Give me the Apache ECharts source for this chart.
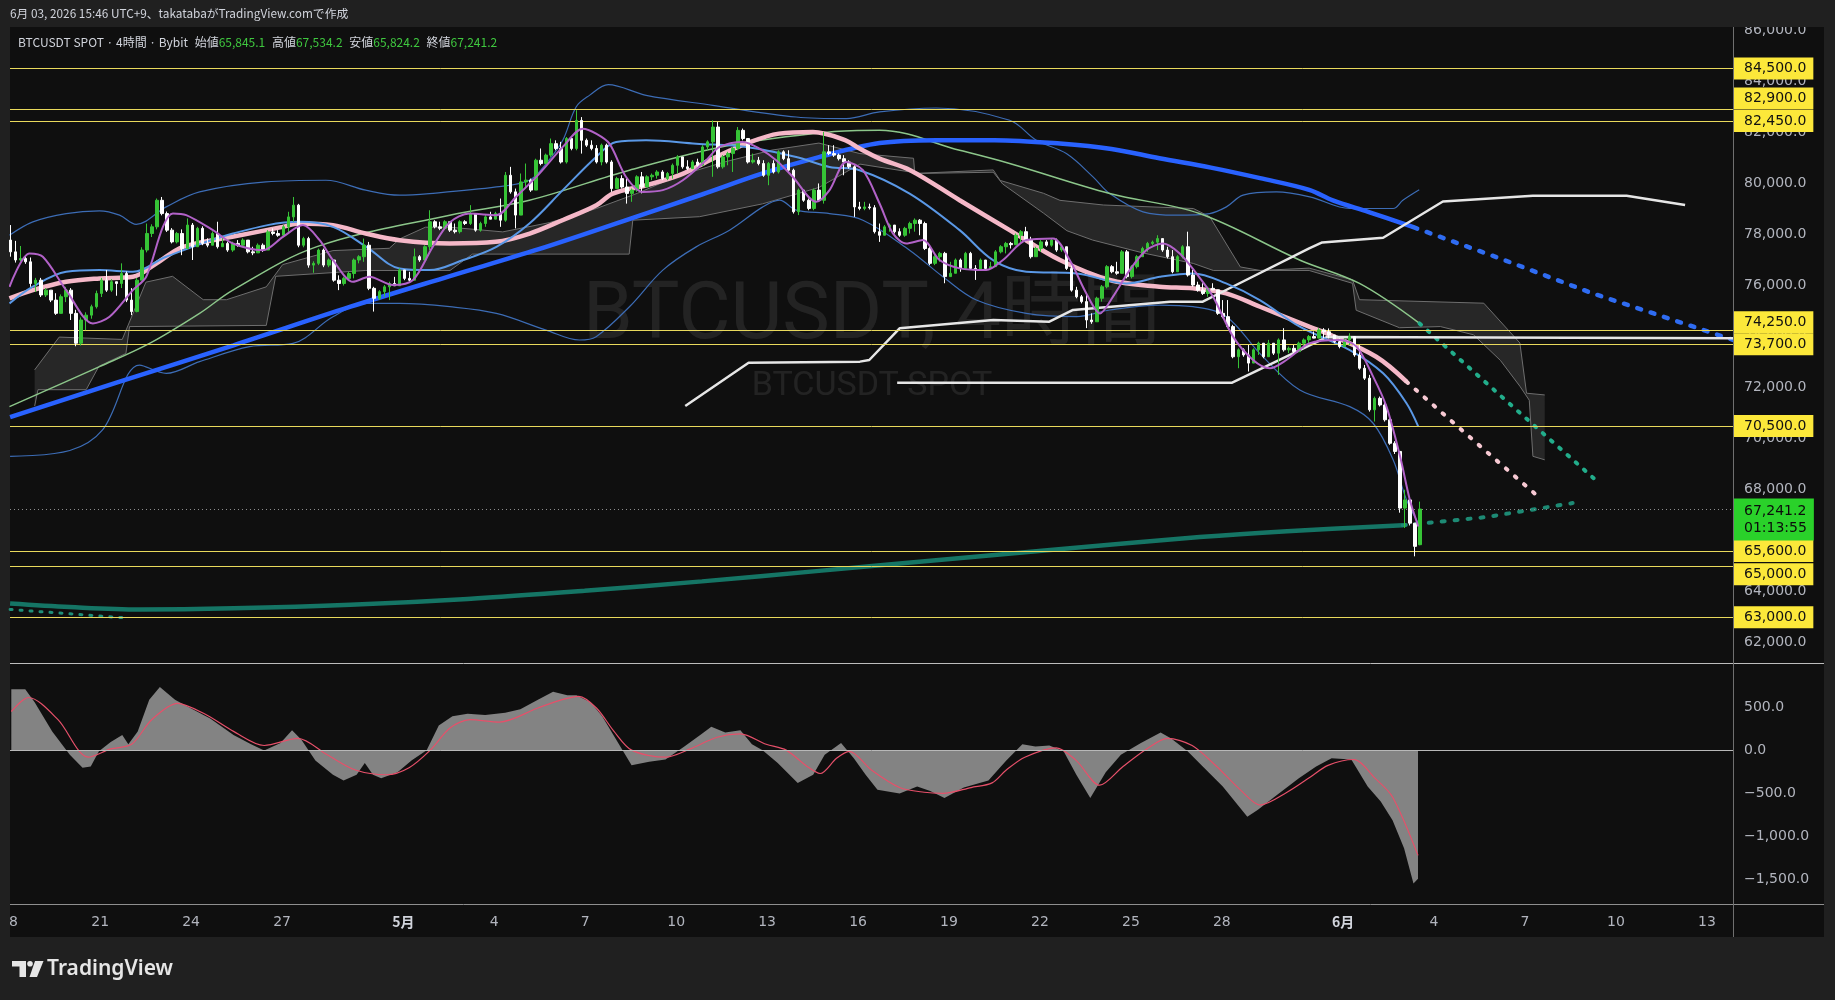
<!DOCTYPE html>
<html lang="ja">
<head>
<meta charset="UTF-8">
<title>BTCUSDT SPOT 4時間</title>
<style>
    *{margin:0;padding:0}
    html,body{width:100%;height:100%;background:#202020;overflow:hidden}
    #chart{width:1835px;height:1000px}
</style>
<script src="https://cdn.jsdelivr.net/npm/echarts@6.0.0/dist/echarts.min.js"></script>
</head>
<body>
<div id="chart"></div>
<script>
// x values are days counted from 2026-04-18 00:00 (UTC+9); candle i opens at 01:00 + 4h*i
// candles: [open, high, low, close]
const candles = [
[77780,78370,77130,77320],[77320,77750,76900,77000],[77000,77550,76950,77060],[77060,77150,76850,76930],
[76930,77100,75950,76080],[76080,76300,75750,76210],[76210,76300,75550,75630],[75630,75900,75550,75820],
[75820,75820,75350,75430],[75430,75700,74850,74910],[74910,75650,74910,75560],[75560,75950,75350,75820],
[75820,75900,74650,74910],[74910,75050,73620,73740],[73740,74750,73650,74650],[74650,74950,74250,74840],
[74840,75250,74700,75170],[75170,75800,75100,75690],[75690,76300,75550,76210],[76210,76610,75750,75820],
[75820,76250,75750,76150],[76150,76150,75600,76080],[76080,76870,75900,76470],[76470,76550,75350,75430],
[75430,75900,74840,74980],[74980,76300,74950,76210],[76210,77500,76210,77390],[77390,78430,77300,78040],
[78040,78400,77900,78300],[78300,79410,78200,79340],[79340,79470,78750,78820],[78820,78900,78100,78170],
[78170,78250,77650,77710],[77710,78100,77650,78040],[78040,78200,77190,77450],[77450,78630,77450,78370],
[78370,78450,77000,77520],[77520,78300,77520,78240],[78240,78320,77580,77650],[77650,77850,77500,77580],
[77580,78120,77580,78040],[78040,78500,77450,77520],[77520,77920,77520,77650],[77650,77720,77320,77390],
[77390,77720,77320,77650],[77650,77780,77520,77580],[77580,77850,77520,77780],[77780,77780,77260,77320],
[77320,77520,77190,77280],[77280,77650,77280,77580],[77580,77650,77320,77390],[77390,78170,77390,78100],
[78100,78240,77970,78040],[78040,78170,77910,77970],[77970,78370,77910,78300],[78300,78890,78100,78690],
[78690,79470,78500,79150],[79150,79200,77500,77580],[77580,77910,77500,77840],[77840,77910,76700,76800],
[76800,76950,76500,76870],[76870,77450,76800,77390],[77390,77450,76720,76800],[76800,77060,76720,77000],
[77000,77000,76150,76210],[76210,76400,75820,76080],[76080,76340,76000,76280],[76280,76540,76210,76470],
[76470,77060,76280,77000],[77000,77190,76870,77130],[77130,77840,76930,77580],[77580,77710,75820,75890],
[75890,75950,74980,75500],[75500,75820,75430,75760],[75760,76020,75560,75950],[75950,76150,75430,76080],
[76080,76340,75990,75990],[75990,76670,75990,76610],[76610,76610,76210,76280],[76280,76540,76150,76210],
[76210,77450,76210,77130],[77130,77190,76930,77000],[77000,77580,77000,77520],[77520,78950,77390,78500],
[78500,78560,78240,78300],[78300,78500,78170,78240],[78240,78560,78240,78500],[78500,78500,78100,78170],
[78170,78430,78040,78110],[78110,78560,78040,78500],[78500,78560,78370,78430],[78430,79150,78370,78820],
[78820,78820,78110,78170],[78170,78500,78110,78430],[78430,78760,78300,78690],[78690,78890,78600,78600],
[78600,78890,78600,78820],[78820,79410,78300,78560],[78560,80450,78500,80320],[80320,80650,79600,79670],
[79670,79800,78240,78760],[78760,80390,78760,80060],[80060,80780,79800,80130],[80130,80190,79670,79740],
[79740,80970,79740,80910],[80910,81370,80710,80780],[80780,81170,80780,81110],[81110,81760,81040,81560],
[81560,81690,81300,81370],[81370,81630,80780,80840],[80840,81820,80780,81760],[81760,81760,81300,81370],
[81370,82870,81300,82470],[82470,82600,81170,81690],[81690,81760,81430,81500],[81500,81690,81300,81370],
[81370,81500,80780,80840],[80840,81560,80710,81500],[81500,81560,80780,80840],[80840,80910,79670,79800],
[79800,80260,79800,80190],[80190,80320,79800,79860],[79860,80190,79210,79610],[79610,79800,79280,79740],
[79740,80320,79670,80260],[80260,80450,79610,79860],[79860,80320,79860,80260],[80260,80390,80130,80320],
[80320,80520,80190,80450],[80450,80520,80130,80190],[80190,80450,80130,80390],[80390,80780,80190,80710],
[80710,81110,80390,81040],[81040,81040,80580,80650],[80650,80910,80520,80580],[80580,80910,80580,80840],
[80840,80970,80650,80710],[80710,81500,80710,81430],[81430,81690,81300,81630],[81630,82470,80260,82210],
[82210,82410,80580,80650],[80650,81110,80580,81040],[81040,81240,80710,81170],[81170,81430,80450,81370],
[81370,82210,81300,82080],[82080,82150,81690,81760],[81760,81760,80780,80840],[80840,81170,80780,80910],
[80910,81040,80710,80780],[80780,80910,80260,80320],[80320,80840,79930,80780],[80780,80910,80390,80450],
[80450,81300,80390,81240],[81240,81300,80910,80970],[80970,81300,80450,80520],[80520,80580,78820,78890],
[78890,79800,78760,79740],[79740,79740,79280,79340],[79340,79410,78950,79020],[79020,79800,78950,79740],
[79740,80000,79280,79340],[79340,82020,79210,81240],[81240,81500,81110,81170],[81170,81500,81040,81110],
[81110,81170,80900,80970],[80970,81110,80320,80840],[80840,80910,80580,80650],[80650,80710,78690,79080],
[79080,79280,78950,79020],[79020,79280,78950,79080],[79080,79210,78980,79050],[79050,79150,78040,78110],
[78110,78430,77710,77970],[77970,78370,77970,78300],[78300,78430,78110,78370],[78370,78370,78040,78110],
[78110,78240,77910,77970],[77970,78300,77910,78240],[78240,78500,78040,78430],[78430,78630,78110,78560],
[78560,78600,77970,78430],[78430,78500,77390,77450],[77450,77520,76800,76870],[76870,77190,76800,77130],
[77130,77320,76930,77260],[77260,77320,76090,76350],[76350,76930,76350,76480],[76480,77060,76480,77000],
[77000,77060,76540,76670],[76670,77320,76670,77260],[77260,77320,76610,76670],[76670,76800,76220,76610],
[76610,77060,76610,77000],[77000,77000,76610,76670],[76670,76930,76670,76740],[76740,77390,76740,77320],
[77320,77580,77260,77520],[77520,77710,77260,77650],[77650,77710,77450,77600],[77600,78040,77580,77970],
[77970,78170,77650,78110],[78110,78300,77710,77780],[77780,77910,77060,77130],[77130,77520,77130,77450],
[77450,77780,77320,77710],[77710,77780,77520,77580],[77580,77840,77520,77780],[77780,77840,77320,77390],
[77390,77580,77320,77520],[77520,77520,76610,76670],[76670,76870,75760,75820],[75820,75950,75500,75560],
[75560,75630,75300,75370],[75370,75690,74330,74650],[74650,74910,74500,74580],[74580,75560,74580,75500],
[75500,76020,75370,75950],[75950,76800,75890,76740],[76740,76800,76480,76540],[76540,76930,76420,76480],
[76480,77390,76480,77320],[77320,77390,76280,76350],[76350,76800,76280,76740],[76740,77190,76670,77130],
[77130,77520,77130,77450],[77450,77710,77320,77650],[77650,77760,77590,77700],[77700,77970,77390,77840],
[77840,77840,77320,77390],[77390,77520,77060,77130],[77130,77390,76480,76540],[76540,77190,76540,77130],
[77130,77580,77060,77520],[77520,78110,76350,76410],[76410,76610,75950,76020],[76020,76150,75760,75820],
[75820,76090,75630,75690],[75690,75950,75560,75890],[75890,76090,75820,75830],[75830,75830,74850,74910],
[74910,75430,74720,74780],[74780,75430,74330,74390],[74390,74460,73150,73210],[73210,73540,72760,73480],
[73480,73540,73210,73280],[73280,73670,72630,72960],[72960,73540,72960,73480],[73480,73800,73280,73740],
[73740,73740,73150,73210],[73210,73870,73210,73740],[73740,73740,73280,73350],[73350,73930,72500,73870],
[73870,74330,73410,73480],[73480,73610,73350,73540],[73540,73670,73350,73410],[73410,73800,73410,73740],
[73740,73930,73540,73870],[73870,74060,73670,74000],[74000,74200,73930,73940],[73940,74330,73930,74260],
[74260,74330,73930,74190],[74190,74320,73930,74060],[74060,74060,73740,73800],[73800,73930,73540,73610],
[73610,73930,73610,73870],[73870,74130,73670,74000],[74000,74000,73210,73280],[73280,73670,72700,72760],
[72760,72890,72300,72370],[72370,72500,71060,71130],[71130,71650,70670,71580],[71580,71650,71260,71320],
[71320,71450,70670,70740],[70740,70800,69760,69820],[69820,69900,69400,69500],[69500,69500,67100,67280],
[67280,68000,66500,67600],[67600,67600,66600,66690],[66690,66690,65390,65780],[65845.1,67534.2,65824.2,67241.2]
];

// indicator lines: [day, price]
const emaBlue = [[0.03,70842],[3.54,72193],[7.4,73659],[11.26,75170],[14.51,76361],[17.44,77415],[20.45,78605],[22.85,79567],[24.85,80392],[26.71,81033],[28.71,81582],[30.57,81697],[32.5,81697],[34.66,81564],[36.36,81353],[37.94,80987],[39.64,80621],[41.26,80208],[42.88,79750],[43.66,79338],[44.85,78880],[46.32,78285]];
const emaBlueProj = [[46.32,78285],[49.1,77094],[52.23,75692],[54.5,74804],[56.86,73870]];
const maPink = [[0.01,75495],[0.78,75821],[1.88,76146],[2.98,76279],[4.08,76343],[4.85,76865],[5.74,77515],[7.36,77909],[9.02,78298],[9.56,78431],[10.68,78367],[11.76,78038],[12.88,77777],[14.53,77648],[16.05,77712],[17.17,78038],[18.25,78560],[19.37,79146],[19.91,79604],[21.01,79929],[22.11,80323],[23.21,80973],[24.31,81560],[25.39,81953],[26.51,82018],[27.59,81692],[28.05,81367],[28.71,80973],[29.72,80520],[31.35,79343],[33.0,78170],[34.66,76998],[36.3,76215],[37.94,75954],[39.05,75890],[40.14,75693],[41.26,75170],[42.88,74387],[43.46,74126],[45.09,73210],[46.09,72235]];
const maPinkProj = [[46.09,72235],[48.33,69903],[50.37,67797]];
const maGreen = [[0.01,71255],[2.98,72821],[4.63,73732],[6.28,74909],[7.38,75821],[10.13,77515],[14.53,78757],[17.16,79343],[20.46,80520],[23.76,81495],[27.06,82018],[28.71,82086],[31.35,81300],[33.0,80781],[36.3,79604],[39.26,78821],[42.58,76993],[44.54,76082],[46.52,74516]];
const maGreenProj = [[46.52,74516],[49.49,71369],[52.45,68255]];
const ma200 = [[0.03,63537],[2.0,63400],[4.31,63308],[7.4,63354],[11.26,63491],[15.12,63720],[18.98,64041],[22.85,64408],[26.71,64820],[30.57,65232],[34.43,65644],[39.27,66148],[42.15,66377],[45.97,66606]];
const ma200Proj = [[45.97,66606],[48.71,66926],[51.57,67476]];
const ma200Left = [[0.03,63308],[3.73,62987]];
const maPurple = [[0.01,75949],[0.67,77254],[1.11,77126],[1.88,75821],[2.76,74516],[3.31,74777],[4.08,75821],[4.52,76343],[5.07,78299],[5.4,78821],[5.84,78757],[6.72,78170],[7.38,77648],[8.37,77387],[9.03,77909],[9.69,78367],[10.24,77777],[10.68,76998],[11.34,76146],[11.88,76343],[12.66,76018],[13.32,76215],[13.97,77515],[14.53,78468],[15.18,78821],[16.07,78757],[16.72,79476],[17.49,80387],[18.26,81431],[18.92,82146],[19.36,81953],[19.8,81560],[20.35,80254],[20.9,79668],[21.56,79737],[22.22,80126],[22.99,80909],[23.43,81431],[24.2,81628],[24.75,81367],[25.3,80909],[25.85,80254],[26.62,79279],[27.06,79737],[27.61,80845],[28.16,80520],[28.71,79215],[29.15,78042],[29.59,77648],[30.14,77781],[30.69,76998],[31.35,76673],[32.23,76604],[32.78,76998],[33.55,77781],[34.43,77845],[34.98,76998],[35.53,75692],[35.98,74909],[36.41,75564],[36.96,76604],[37.51,77387],[38.06,77648],[38.61,77259],[39.16,76475],[39.71,75564],[40.37,73998],[41.03,73082],[41.58,72757],[42.13,73082],[42.9,73737],[43.89,73865],[44.44,73604],[44.99,72432],[45.43,71255],[45.88,69299],[46.2,67604],[46.48,66560]];
const bbBasis = [[0.01,75299],[0.78,75954],[1.88,76540],[2.98,76604],[4.08,76540],[5.18,77126],[7.38,78038],[9.58,78496],[10.68,78299],[11.78,77515],[12.88,76668],[13.86,76604],[14.97,76998],[16.07,77515],[17.16,78431],[18.26,79737],[19.36,81037],[20.02,81628],[21.01,81692],[22.66,81560],[24.31,81431],[25.96,81037],[27.06,80648],[28.05,80520],[29.7,79604],[31.35,78170],[32.45,76998],[33.55,76540],[35.2,76476],[36.85,76082],[37.95,76343],[39.05,76476],[40.14,76082],[41.25,75432],[42.57,74387],[44.22,73471],[45.32,72560],[46.09,71387],[46.48,70471]];
const bbUpper = [[0.01,77973],[0.78,78496],[1.88,78821],[2.98,78926],[3.64,78757],[4.19,78400],[5.18,79082],[6.28,79668],[8.47,80062],[10.45,80126],[11.76,79737],[12.88,79540],[13.86,79604],[16.07,79865],[17.16,80126],[17.71,80776],[18.26,81692],[18.7,82998],[19.14,83451],[19.76,83872],[21.01,83451],[23.21,83062],[25.96,82604],[27.61,82540],[28.71,82801],[30.57,82956],[33.0,82476],[33.88,81692],[34.87,81170],[35.75,80259],[36.3,79604],[37.4,78889],[38.5,78757],[39.6,78821],[40.15,79082],[40.7,79540],[41.8,79668],[42.9,79476],[44.22,79018],[45.65,79018],[45.97,79338],[46.51,79750]];
const bbLower = [[0.03,69308],[2.0,69537],[3.08,70343],[4.3,72885],[5.18,72560],[6.28,73018],[7.93,73604],[9.36,73732],[10.68,74776],[11.78,75299],[12.88,75299],[14.53,75170],[16.07,74909],[17.71,74254],[18.81,73865],[19.36,73998],[20.46,75170],[21.56,76604],[22.66,77515],[23.76,78170],[24.86,79082],[25.41,79343],[25.96,78954],[27.06,78821],[28.16,78560],[29.7,77387],[30.8,76343],[31.9,75432],[33.55,74909],[35.2,74781],[36.3,75042],[37.95,75234],[39.05,75170],[40.15,74781],[41.25,73343],[42.57,71909],[44.22,71255],[44.99,70604],[45.65,69171],[46.09,67605],[46.48,66688]];
const cloudTop = [[0.84,72697],[1.65,73980],[3.73,73888],[4.51,76132],[5.39,76361],[6.4,75445],[7.17,75445],[8.48,75949],[9.02,76819],[10.68,77369],[12.54,77460],[12.88,77827],[13.73,78285],[14.54,78285],[16.28,78102],[17.83,78468],[19.37,79018],[20.72,79613],[22.07,80300],[23.62,80850],[25.16,81308],[26.71,81582],[28.06,81170],[29.83,80987],[29.87,80392],[32.46,80529],[32.69,80117],[34.12,79613],[34.66,79338],[36.09,79155],[39.06,79018],[39.6,78697],[40.61,76728],[41.27,76590],[42.88,76682],[44.31,76224],[44.54,75445],[48.64,75308],[49.83,73751],[50.05,71781],[50.65,71713]];
const cloudBottom = [[0.84,71277],[0.95,71919],[2.54,71919],[2.96,72835],[3.85,73338],[3.97,74392],[8.48,74438],[8.79,76361],[11.76,76590],[14.54,76590],[15.28,77231],[20.45,77231],[20.57,78560],[22.77,78697],[24.85,79201],[26.71,79842],[28.06,80758],[30.03,80392],[32.46,80440],[32.77,79979],[34.12,78834],[34.89,78147],[35.74,77781],[37.4,77277],[39.06,76865],[39.72,76590],[42.88,76590],[44.31,76086],[44.43,75033],[45.86,74346],[47.21,74392],[48.3,74071],[49.19,73064],[49.83,72056],[50.14,71506],[50.26,69308],[50.65,69171]];
const baseA = [[22.3,71277],[24.39,72972],[28.06,73018],[28.37,73082],[29.37,74323],[32.46,74648],[34.31,74584],[35.09,75042],[38.29,75367],[39.37,75367],[40.14,75825],[42.88,77456],[43.31,77689],[45.32,77873],[47.29,79292],[50.26,79521],[53.35,79521],[55.28,79155]];
const baseB = [[29.29,72193],[40.34,72193],[43.46,73980],[56.86,73934]];
const levels = [84500, 82900, 82450, 74250, 73700, 70500, 65600, 65000, 63000];
const lastPrice = 67241.2;
const countdown = '01:13:55';

// MACD pane: [day, value]
const macd = [[0.07,711],[0.53,711],[0.84,562],[1.42,222],[2.0,-50],[2.42,-200],[2.69,-186],[2.96,-10],[3.35,99],[3.73,181],[3.93,72],[4.24,222],[4.62,589],[4.97,738],[5.47,589],[6.05,480],[6.63,371],[7.4,181],[7.98,72],[8.41,0],[8.95,86],[9.33,235],[9.64,126],[10.1,-118],[10.68,-282],[11.03,-350],[11.46,-282],[11.73,-146],[12.0,-282],[12.27,-322],[12.81,-254],[13.27,-118],[13.77,4],[14.17,290],[14.62,398],[15.12,426],[15.7,412],[16.36,439],[16.86,480],[17.44,589],[17.94,684],[18.41,643],[18.71,643],[19.18,562],[19.56,398],[19.95,167],[20.53,-173],[21.11,-132],[21.65,-105],[22.27,45],[22.85,194],[23.16,276],[23.62,208],[24.12,235],[24.5,72],[24.85,4],[25.35,-146],[26.01,-377],[26.52,-282],[26.9,-50],[27.44,86],[27.86,-91],[28.25,-282],[28.64,-458],[29.37,-499],[29.95,-418],[30.38,-472],[30.85,-554],[31.49,-431],[32.3,-350],[32.89,-118],[33.42,72],[33.85,45],[34.31,58],[34.78,-10],[35.2,-282],[35.66,-554],[36.17,-254],[36.67,-50],[37.33,86],[37.98,208],[38.33,140],[38.87,-10],[39.37,-186],[40.03,-418],[40.84,-771],[41.19,-690],[41.73,-540],[42.54,-322],[43.11,-186],[43.62,-91],[44.27,-105],[44.81,-418],[45.24,-594],[45.63,-812],[46.01,-1138],[46.32,-1546],[46.47,-1492]];
const signal = [[0.07,453],[0.64,616],[1.61,358],[2.61,-78],[3.35,18],[4.04,72],[4.7,358],[5.55,548],[6.44,426],[7.4,222],[8.41,58],[9.52,140],[10.49,-50],[11.42,-227],[12.46,-282],[13.19,-200],[13.89,4],[14.54,262],[15.2,358],[16.17,330],[17.44,494],[18.21,589],[18.79,630],[19.37,494],[19.95,222],[20.53,4],[21.65,-78],[22.46,18],[23.35,154],[24.12,194],[24.97,72],[25.63,4],[26.32,-186],[26.75,-268],[27.29,-91],[27.71,-10],[28.44,-227],[29.37,-431],[30.18,-486],[30.8,-499],[31.73,-431],[32.42,-377],[32.89,-227],[33.5,-78],[34.54,31],[35.2,-118],[35.97,-404],[36.74,-186],[37.52,18],[38.21,140],[39.02,58],[39.83,-186],[40.61,-458],[41.26,-635],[42.15,-486],[42.92,-309],[43.5,-173],[44.35,-105],[45.05,-322],[45.63,-540],[46.47,-1220]];

// axis ticks
const priceTicks = [62000,64000,66000,68000,70000,72000,74000,76000,78000,80000,82000,84000,86000];
const macdTicks = [500, 0, -500, -1000, -1500];
const tickDays = [0.14,3,6,9,13,16,19,22,25,28,31,34,37,40,44,47,50,53,56];
const tickNames = ['8','21','24','27','5月','4','7','10','13','16','19','22','25','28','6月','4','7','10','13'];

const X_MIN = 0.027, X_MAX = 56.86;
const AXIS_FONT = '"DejaVu Sans", sans-serif';
const UI_FONT = '"Noto Sans CJK JP", "Noto Sans", sans-serif';

function fmt(v) {
    return Math.abs(v).toLocaleString('en-US', {minimumFractionDigits: 1, maximumFractionDigits: 1});
}
function fmtSigned(v) {
    return (v < 0 ? '\u2212' : '') + fmt(v);
}

const candleData = candles.map((c, i) => [(1 + 4 * i) / 24, c[0], c[3], c[2], c[1]]);

function line(data, color, width, extra) {
    return Object.assign({
        type: 'line', xAxisIndex: 0, yAxisIndex: 0, data: data,
        showSymbol: false, symbol: 'none', silent: true, smooth: 0.35,
        lineStyle: {color: color, width: width}, z: 3
    }, extra || {});
}
function dotted(data, color, width, dash) {
    return line(data, color, width, {
        smooth: false,
        lineStyle: {color: color, width: width, type: dash || [1, 9], cap: 'round'}
    });
}

const levelShift = {82900: -11, 74250: -8, 65000: 8};
const levelLines = levels.map(v => ({
    yAxis: v,
    label: {offset: [0, levelShift[v] || 0]}
}));
levelLines.push({
    yAxis: lastPrice,
    lineStyle: {color: '#8d8d8d', type: [1, 3], width: 1},
    label: {
        formatter: '{a|' + fmt(lastPrice) + '}\n{a|' + countdown + '}',
        backgroundColor: '#2ad12a', padding: [4, 7, 4, 11], offset: [0, 10.5],
        rich: {a: {color: '#0c0c0c', fontSize: 14, fontFamily: AXIS_FONT, lineHeight: 17}}
    }
});

const chart = echarts.init(document.getElementById('chart'));
const option = {
    animation: false,
    backgroundColor: '#202020',
    grid: [
        {left: 10, top: 27, width: 1723, height: 636, outerBoundsMode: 'none'},
        {left: 10, top: 663, width: 1723, height: 241, outerBoundsMode: 'none'}
    ],
    xAxis: [
        {type: 'value', gridIndex: 0, min: X_MIN, max: X_MAX, show: false},
        {
            type: 'value', gridIndex: 1, min: X_MIN, max: X_MAX,
            axisLine: {show: false}, axisTick: {show: false}, splitLine: {show: false},
            axisLabel: {
                customValues: tickDays,
                color: '#b2b5be', fontSize: 14, fontFamily: AXIS_FONT, margin: 11,
                formatter: function (v) {
                    const k = tickDays.findIndex(d => Math.abs(d - v) < 1e-6);
                    if (k < 0) return '';
                    const s = tickNames[k];
                    return s.indexOf('月') > 0 ? '{m|' + s + '}' : s;
                },
                rich: {m: {color: '#d1d4dc', fontSize: 14, fontWeight: 'bold', fontFamily: UI_FONT}}
            }
        }
    ],
    yAxis: [
        {
            type: 'value', gridIndex: 0, min: 61210, max: 86130, position: 'right',
            axisLine: {show: false}, axisTick: {show: false}, splitLine: {show: false},
            axisLabel: {customValues: priceTicks, formatter: fmt, color: '#b2b5be', fontSize: 14, fontFamily: AXIS_FONT, margin: 11}
        },
        {
            type: 'value', gridIndex: 1, min: -1785, max: 1017, position: 'right',
            axisLine: {show: false}, axisTick: {show: false}, splitLine: {show: false},
            axisLabel: {customValues: macdTicks, formatter: fmtSigned, color: '#b2b5be', fontSize: 14, fontFamily: AXIS_FONT, margin: 11}
        }
    ],
    series: [
        {
            // ichimoku cloud
            type: 'custom', xAxisIndex: 0, yAxisIndex: 0, z: 1, silent: true,
            data: [[0, 0]],
            renderItem: function (params, api) {
                const pts = cloudTop.concat(cloudBottom.slice().reverse()).map(p => api.coord(p));
                return {type: 'polygon', shape: {points: pts}, style: {fill: 'rgba(255,255,255,0.1)'}};
            }
        },
        line(cloudTop, '#6e6e6e', 1, {smooth: false, z: 1}),
        line(cloudBottom, '#6e6e6e', 1, {smooth: false, z: 1}),
        {
            type: 'line', xAxisIndex: 0, yAxisIndex: 0, data: [], clip: false, z: 4, silent: true,
            markLine: {
                silent: true, symbol: ['none', 'none'], animation: false,
                lineStyle: {color: '#e9d95c', width: 1, type: 'solid'},
                label: {
                    show: true, position: 'end', distance: 0, formatter: p => fmt(p.value),
                    color: '#111111', fontSize: 14, fontFamily: AXIS_FONT, lineHeight: 16,
                    backgroundColor: '#fce83a', padding: [3, 7, 3, 11]
                },
                data: levelLines
            }
        },
        line(ma200, '#157565', 4.5),
        dotted(ma200Left, '#1f8f79', 3, [2, 8]),
        dotted(ma200Proj, '#1d8a74', 4, [3, 10]),
        line(bbUpper, '#3c6cb5', 1.2),
        line(bbLower, '#3c6cb5', 1.2),
        line(maGreen, '#8cc68a', 1.5),
        dotted(maGreenProj, '#22ad8b', 4, [2, 9]),
        line(emaBlue, '#2962ff', 4.5),
        dotted(emaBlueProj, '#2f6cf2', 4.5, [4, 10]),
        line(maPink, '#f5b8c8', 4.5),
        dotted(maPinkProj, '#f7c9d3', 4, [2, 10]),
        line(baseA, '#e6e6e6', 2.5, {smooth: false}),
        line(baseB, '#e6e6e6', 2.5, {smooth: false}),
        line(bbBasis, '#5a98e6', 2),
        {
            type: 'candlestick', xAxisIndex: 0, yAxisIndex: 0, data: candleData, z: 5,
            barWidth: 3, silent: true,
            itemStyle: {color: '#36c436', color0: '#ffffff', borderColor: '#36c436', borderColor0: '#ffffff', borderWidth: 1}
        },
        line(maPurple, '#b262c8', 2, {z: 6, smooth: 0.3}),
        {
            type: 'line', xAxisIndex: 1, yAxisIndex: 1, data: macd, showSymbol: false, silent: true,
            lineStyle: {width: 0}, areaStyle: {color: '#838383', opacity: 1}, z: 2,
            markLine: {
                silent: true, symbol: ['none', 'none'], label: {show: false},
                lineStyle: {color: '#b8b8b8', width: 1, type: 'solid'},
                data: [{yAxis: 0}]
            }
        },
        {
            type: 'line', xAxisIndex: 1, yAxisIndex: 1, data: signal, showSymbol: false, silent: true,
            smooth: 0.3, lineStyle: {color: '#e6506a', width: 1.2}, z: 3
        }
    ],
    graphic: [
        {type: 'rect', silent: true, z: -10, shape: {x: 10, y: 27, width: 1814, height: 910}, style: {fill: '#0f0f0f'}},
        {type: 'text', silent: true, z: -5, x: 872, y: 318,
            style: {text: 'BTCUSDT, 4時間', font: '80px Roboto, "Noto Sans CJK JP", sans-serif', fill: 'rgba(255,255,255,0.085)', align: 'center', verticalAlign: 'middle'}},
        {type: 'text', silent: true, z: -5, x: 872, y: 386,
            style: {text: 'BTCUSDT SPOT', font: '34px Roboto, sans-serif', fill: 'rgba(255,255,255,0.085)', align: 'center', verticalAlign: 'middle'}},
        {type: 'text', silent: true, z: 30, x: 18, y: 42,
            style: {
                text: '{t|BTCUSDT SPOT · 4時間 · Bybit}  {t|始値}{v|65,845.1}  {t|高値}{v|67,534.2}  {t|安値}{v|65,824.2}  {t|終値}{v|67,241.2}',
                verticalAlign: 'middle',
                rich: {
                    t: {fill: '#d1d4dc', font: '12px ' + UI_FONT},
                    v: {fill: '#3fc73f', font: '12px ' + UI_FONT}
                }
            }},
        // pane separators
        {type: 'line', silent: true, z: 20, shape: {x1: 10, y1: 663.5, x2: 1824, y2: 663.5}, style: {stroke: '#bdbdbd', lineWidth: 1}},
        {type: 'line', silent: true, z: 20, shape: {x1: 10, y1: 904.5, x2: 1824, y2: 904.5}, style: {stroke: '#8f8f8f', lineWidth: 1}},
        {type: 'line', silent: true, z: 20, shape: {x1: 1733.5, y1: 27, x2: 1733.5, y2: 937}, style: {stroke: '#6f6f6f', lineWidth: 1}},
        // header strip (clips the top price label like the pane edge does)
        {type: 'rect', silent: true, z: 50, shape: {x: 0, y: 0, width: 1835, height: 27}, style: {fill: '#202020'}},
        {type: 'text', silent: true, z: 51, x: 10, y: 14,
            style: {text: '6月 03, 2026 15:46 UTC+9、takatabaがTradingView.comで作成', font: '11.8px ' + UI_FONT, fill: '#d1d4dc', verticalAlign: 'middle'}},
        // footer logo
        {type: 'polygon', silent: true, z: 51, shape: {points: [[12, 961], [26, 961], [26, 977], [19.5, 977], [19.5, 966.5], [12, 966.5]]}, style: {fill: '#e6e6e6'}},
        {type: 'circle', silent: true, z: 51, shape: {cx: 30, cy: 963.8, r: 2.8}, style: {fill: '#e6e6e6'}},
        {type: 'polygon', silent: true, z: 51, shape: {points: [[35, 961], [43.5, 961], [37, 977], [29.5, 977]]}, style: {fill: '#e6e6e6'}},
        {type: 'text', silent: true, z: 51, x: 47, y: 969.5,
            style: {text: 'TradingView', font: '600 21px "Noto Sans", sans-serif', fill: '#e6e6e6', verticalAlign: 'middle'}}
    ]
};
chart.setOption(option);
</script>
</body>
</html>
